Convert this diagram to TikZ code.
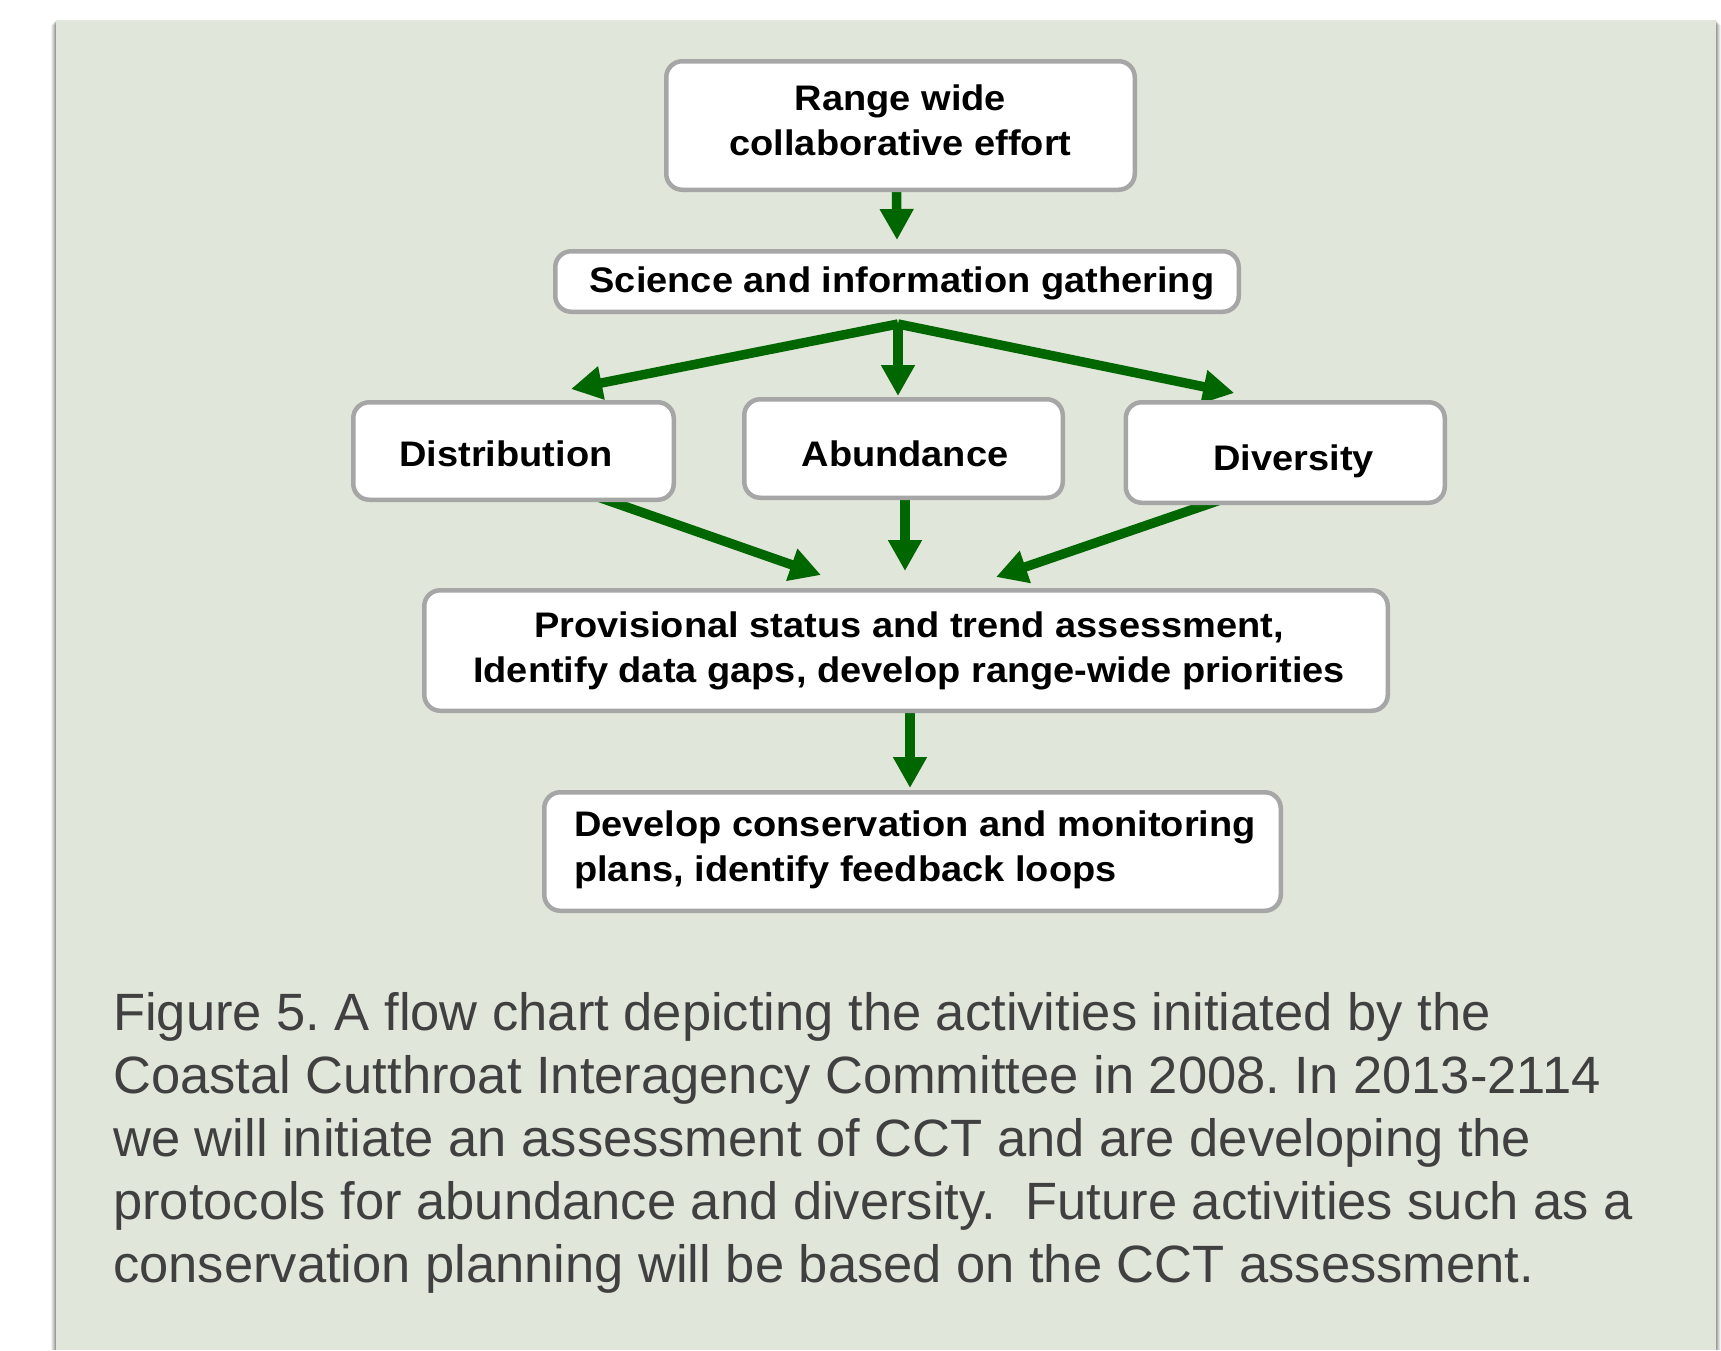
\documentclass[tikz,border=0pt]{standalone}
\usepackage{fontspec}
\usetikzlibrary{arrows.meta}
\setmainfont{Liberation Sans}
\newfontfamily\boxfont[FakeStretch=1.07]{Liberation Sans}
\definecolor{panelgreen}{HTML}{E0E6D9}
\definecolor{boxgray}{HTML}{A6A6A6}
\definecolor{arrowgreen}{HTML}{006600}
\definecolor{captiongray}{HTML}{404040}
\frenchspacing
% label set with its first baseline #2 above the node centre, shifted right by half of #3
\newcommand\boxlabel[4]{\raisebox{#2}[0pt][0pt]{\makebox[0pt]{\hspace*{#3}\begin{tabular}[t]{@{}#1@{}}#4\end{tabular}}}}
\pgfdeclarelayer{panel}
\pgfdeclarelayer{links}
\pgfsetlayers{panel,links,main}
\begin{document}
\begin{tikzpicture}[x=1pt,y=-1pt,
  flowbox/.style={draw=boxgray, line width=4.5pt, fill=white, rounded corners=16pt,
    inner sep=0pt, font=\boxfont\bfseries\fontsize{35.5}{45.5}\selectfont},
  flowarrow/.style={draw=arrowgreen, line width=9.5pt,
    -{Triangle[length=31pt,width=32pt]}}]
\useasboundingbox (0,0) rectangle (1721,1350);

% panel with soft side shadows
\begin{pgfonlayer}{panel}
  \fill[white] (0,0) rectangle (1721,1350);
  \foreach \d/\o in {5/0.05,4/0.07,3/0.09,2/0.11,1/0.13}{
    \fill[black,opacity=\o] (56-\d,20+\d) rectangle (56,1350);
    \fill[black,opacity=\o] (1716,20+\d) rectangle (1716+\d,1350);
  }
  \fill[panelgreen] (56,20) rectangle (1716,1350);
\end{pgfonlayer}

% boxes
\node[flowbox, minimum width=468.5pt, minimum height=128.5pt] (range) at (900.5,125.5)
  {\boxlabel{c}{15.5pt}{0pt}{Range wide\\collaborative effort}};
\node[flowbox, minimum width=683.5pt, minimum height=60.5pt] (sci) at (897,281.5)
  {\boxlabel{c}{-11pt}{10pt}{Science and information gathering}};
\node[flowbox, minimum width=320.5pt, minimum height=97.5pt] (dist) at (513.5,451)
  {\boxlabel{c}{-15.7pt}{-15pt}{Distribution}};
\node[flowbox, minimum width=318.5pt, minimum height=98.5pt] (abun) at (903.5,448.5)
  {\boxlabel{c}{-18pt}{3pt}{Abundance}};
\node[flowbox, minimum width=319pt, minimum height=100.5pt] (div) at (1285.25,452.5)
  {\boxlabel{c}{-17.5pt}{17pt}{Diversity}};
\node[flowbox, minimum width=963.5pt, minimum height=120.5pt] (prov) at (906,650.5)
  {\boxlabel{c}{13.5pt}{6pt}{Provisional status and trend assessment,\\Identify data gaps, develop range-wide priorities}};
\node[flowbox, minimum width=736.5pt, minimum height=118.5pt] (dev) at (912.5,851.5)
  {\boxlabel{l}{15.5pt}{5pt}{Develop conservation and monitoring\\plans, identify feedback loops}};

% connectors
\begin{pgfonlayer}{links}
  \coordinate (fan) at ([xshift=1pt,yshift=-10pt]sci.south);
  \draw[flowarrow] ([xshift=-4pt,yshift=4pt]range.south) -- ([xshift=0pt,yshift=9pt]sci.north);
  \draw[flowarrow] (fan) -- ([xshift=57.5pt,yshift=11pt]dist.north);
  \draw[flowarrow] (fan) -- ([xshift=-5.5pt,yshift=1pt]abun.north);
  \draw[flowarrow] (fan) -- ([xshift=-51pt,yshift=7pt]div.north);
  \draw[flowarrow] ([xshift=84.5pt,yshift=5pt]dist.south) -- ([xshift=-85pt,yshift=13pt]prov.north);
  \draw[flowarrow] ([xshift=1.5pt,yshift=4pt]abun.south) -- ([xshift=-1pt,yshift=17pt]prov.north);
  \draw[flowarrow] ([xshift=-65pt,yshift=5pt]div.south) -- ([xshift=90pt,yshift=11pt]prov.north);
  \draw[flowarrow] ([xshift=4pt,yshift=4pt]prov.south) -- ([xshift=-2.5pt,yshift=2pt]dev.north);
\end{pgfonlayer}

% caption
\node[anchor=west, inner sep=0pt, text=captiongray,
  font=\fontsize{52.5}{63}\selectfont] (caption) at (113,1030)
  {\raisebox{0pt}[0pt][0pt]{\begin{tabular}[t]{@{}l@{}}
  Figure 5. A flow chart depicting the activities initiated by the\\
  Coastal Cutthroat Interagency Committee in 2008. In 2013-2114\\
  we will initiate an assessment of CCT and are developing the\\
  protocols for abundance and diversity.~ Future activities such as a\\
  conservation planning will be based on the CCT assessment.
  \end{tabular}}};
\end{tikzpicture}
\end{document}
